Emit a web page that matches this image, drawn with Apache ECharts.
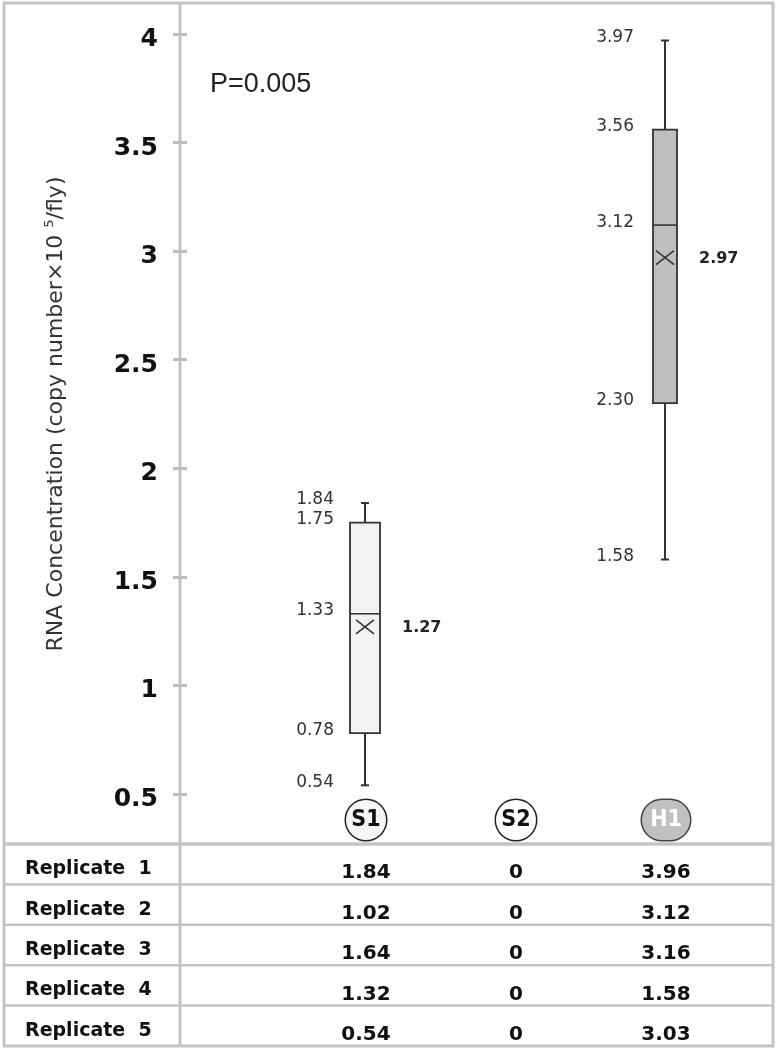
<!DOCTYPE html>
<html>
<head>
<meta charset="utf-8">
<script src="https://cdn.jsdelivr.net/npm/echarts@6.0.0/dist/echarts.min.js"></script>
<style>
    html, body { margin: 0; padding: 0; background: #fff; }
    #chart { width: 780px; height: 1050px; }
</style>
</head>
<body>
<div id="chart"></div>
<script>
// data
const groups = ['S1', 'S2', 'H1'];
const yTicks = [0.5, 1, 1.5, 2, 2.5, 3, 3.5, 4];
// min, Q1, median, Q3, max
const boxS1 = [0.54, 0.78, 1.33, 1.75, 1.84];
const boxH1 = [1.58, 2.30, 3.12, 3.56, 3.97];
const means = [1.27, null, 2.97];
const replicates = ['Replicate  1', 'Replicate  2', 'Replicate  3', 'Replicate  4', 'Replicate  5'];
const repS1 = [1.84, 1.02, 1.64, 1.32, 0.54];
const repS2 = [0, 0, 0, 0, 0];
const repH1 = [3.96, 3.12, 3.16, 1.58, 3.03];
const pText = 'P=0.005';

// layout
const AXIS_X = 180;
const TICK_HALF = 7;
const GRID_LEFT = 291;
const GRID_RIGHT = 39;
const PLOT_TOP = 34;
const PLOT_BOTTOM = 794;
const TABLE_TOP = 844;
const TABLE_BOTTOM = 1046;
const BORDER = {left: 4, right: 773, top: 3};
const lineGray = '#c4c4c4';
const tickGray = '#bdbdbd';
const ink = '#333';

const boxStyles = {
    0: {width: 30, fill: '#f2f2f2'},
    2: {width: 24, fill: '#bfbfbf'}
};

const boxData = [
    [0, ...boxS1, means[0]],
    [2, ...boxH1, means[2]]
];

const repCols = [repS1, repS2, repH1];
const tableData = [];
repCols.forEach((col, ci) => {
    col.forEach((v, ri) => tableData.push([ci, ri, v]));
});

function renderBox(params, api) {
    const ci = api.value(0);
    const st = boxStyles[ci];
    const hw = st.width / 2;
    const vals = [1, 2, 3, 4, 5, 6].map(i => api.value(i));
    const ys = vals.map(v => api.coord([ci, v])[1]);
    const cx = api.coord([ci, vals[0]])[0] - 1;
    const [yMin, yQ1, yMed, yQ3, yMax, yMean] = ys;
    const ls = {stroke: ink, lineWidth: 2};
    const children = [
        {type: 'line', shape: {x1: cx, y1: yMax, x2: cx, y2: yQ3}, style: ls},
        {type: 'line', shape: {x1: cx, y1: yQ1, x2: cx, y2: yMin}, style: ls},
        {type: 'line', shape: {x1: cx - 4, y1: yMax, x2: cx + 4, y2: yMax}, style: ls},
        {type: 'line', shape: {x1: cx - 4, y1: yMin, x2: cx + 4, y2: yMin}, style: ls},
        {type: 'rect', shape: {x: cx - hw, y: yQ3, width: hw * 2, height: yQ1 - yQ3},
            style: {fill: st.fill, stroke: ink, lineWidth: 1.8}},
        {type: 'line', shape: {x1: cx - hw, y1: yMed, x2: cx + hw, y2: yMed}, style: {stroke: ink, lineWidth: 1.6}},
        {type: 'line', shape: {x1: cx - 9, y1: yMean - 7, x2: cx + 9, y2: yMean + 7}, style: {stroke: ink, lineWidth: 1.5}},
        {type: 'line', shape: {x1: cx - 9, y1: yMean + 7, x2: cx + 9, y2: yMean - 7}, style: {stroke: ink, lineWidth: 1.5}},
        {type: 'text', x: cx + hw + 22, y: yMean + 1, style: {
            text: vals[5].toFixed(2), fill: '#222', font: 'bold 16px "DejaVu Sans"',
            align: 'left', verticalAlign: 'middle'}}
    ];
    for (let i = 0; i < 5; i++) {
        children.push({type: 'text', x: cx - 31, y: ys[i] - 3, style: {
            text: vals[i].toFixed(2), fill: ink, font: '17px "DejaVu Sans"',
            align: 'right', verticalAlign: 'middle'}});
    }
    return {type: 'group', children: children};
}

const graphics = [
    {type: 'rect', silent: true, z: -1,
        shape: {x: BORDER.left, y: BORDER.top, width: BORDER.right - BORDER.left, height: TABLE_BOTTOM - BORDER.top},
        style: {fill: 'none', stroke: lineGray, lineWidth: 3}},
    {type: 'line', silent: true, z: -1,
        shape: {x1: AXIS_X, y1: BORDER.top, x2: AXIS_X, y2: TABLE_BOTTOM},
        style: {stroke: lineGray, lineWidth: 3}}
];
const rowH = (TABLE_BOTTOM - TABLE_TOP) / replicates.length;
for (let i = 0; i < replicates.length; i++) {
    graphics.push({type: 'line', silent: true, z: -1,
        shape: {x1: BORDER.left, y1: TABLE_TOP + i * rowH, x2: BORDER.right, y2: TABLE_TOP + i * rowH},
        style: {stroke: lineGray, lineWidth: i === 0 ? 3.5 : 2.5}});
}

const circleBase = {
    width: 40, height: 40, lineHeight: 40, align: 'center', borderRadius: 20,
    borderColor: '#222', borderWidth: 1.5, fontWeight: 'bold', fontSize: 23,
    fontFamily: '"Liberation Sans Narrow", "DejaVu Sans Condensed", sans-serif'
};

const chart = echarts.init(document.getElementById('chart'));
chart.setOption({
    animation: false,
    backgroundColor: '#fff',
    title: {
        text: pText, left: 205, top: 66,
        textStyle: {fontSize: 27, fontWeight: 'normal', color: '#222', fontFamily: 'Liberation Sans'}
    },
    grid: [
        {left: GRID_LEFT, right: GRID_RIGHT, top: PLOT_TOP, bottom: 1050 - PLOT_BOTTOM},
        {left: GRID_LEFT, right: GRID_RIGHT, top: TABLE_TOP, bottom: 1050 - TABLE_BOTTOM}
    ],
    xAxis: [
        {
            type: 'category', gridIndex: 0, data: groups,
            axisLine: {show: false}, axisTick: {show: false},
            axisLabel: {
                margin: 6,
                formatter: v => '{' + v.toLowerCase() + '|' + v + '}',
                rich: {
                    s1: Object.assign({}, circleBase, {backgroundColor: '#f6f6f6', color: '#111'}),
                    s2: Object.assign({}, circleBase, {backgroundColor: '#fff', color: '#111'}),
                    h1: Object.assign({}, circleBase, {width: 48, backgroundColor: '#c0c0c0', color: '#fff', borderColor: '#444'})
                }
            }
        },
        {type: 'category', gridIndex: 1, data: groups, show: false}
    ],
    yAxis: [
        {
            // hidden axis line sits TICK_HALF right of the drawn one so ticks cross it
            type: 'value', gridIndex: 0, min: yTicks[0], max: yTicks[yTicks.length - 1], interval: 0.5,
            offset: GRID_LEFT - AXIS_X - TICK_HALF,
            name: '{n|RNA Concentration (copy number×10 }{sup|5}{n|/fly)}',
            nameLocation: 'middle', nameGap: 111 + TICK_HALF,
            nameTextStyle: {
                rich: {
                    n: {fontSize: 22, fontFamily: 'DejaVu Sans', color: ink, lineHeight: 26},
                    sup: {fontSize: 13, fontFamily: 'DejaVu Sans', color: ink, lineHeight: 26, verticalAlign: 'top', padding: [0, 0, 10, 0]}
                }
            },
            axisLine: {show: false},
            axisTick: {show: true, length: TICK_HALF * 2, lineStyle: {color: tickGray, width: 3}},
            splitLine: {show: false},
            axisLabel: {
                margin: 22 + TICK_HALF,
                formatter: v => '{t|' + v + '}',
                rich: {
                    t: {color: '#111', fontSize: 25, fontWeight: 'bold', fontFamily: 'DejaVu Sans',
                        lineHeight: 26, padding: [11, 0, 0, 0]}
                }
            }
        },
        {
            type: 'category', gridIndex: 1, data: replicates, inverse: true,
            offset: GRID_LEFT - AXIS_X,
            axisLine: {show: false}, axisTick: {show: false}, splitLine: {show: false},
            axisLabel: {
                align: 'left', margin: 155,
                formatter: v => '{r|' + v + '}',
                rich: {
                    r: {color: '#111', fontSize: 19, fontWeight: 'bold', fontFamily: 'DejaVu Sans',
                        lineHeight: 22, padding: [10, 0, 0, 0]}
                }
            }
        }
    ],
    graphic: graphics,
    series: [
        {
            type: 'custom', xAxisIndex: 0, yAxisIndex: 0,
            renderItem: renderBox, data: boxData, clip: false
        },
        {
            type: 'scatter', xAxisIndex: 1, yAxisIndex: 1,
            symbolSize: 0, data: tableData,
            itemStyle: {opacity: 1},
            label: {
                show: true, position: 'inside', offset: [0, 9],
                color: '#111', fontSize: 20, fontWeight: 'bold', fontFamily: 'DejaVu Sans',
                formatter: p => p.value[2] === 0 ? '0' : p.value[2].toFixed(2)
            }
        }
    ]
});
</script>
</body>
</html>
